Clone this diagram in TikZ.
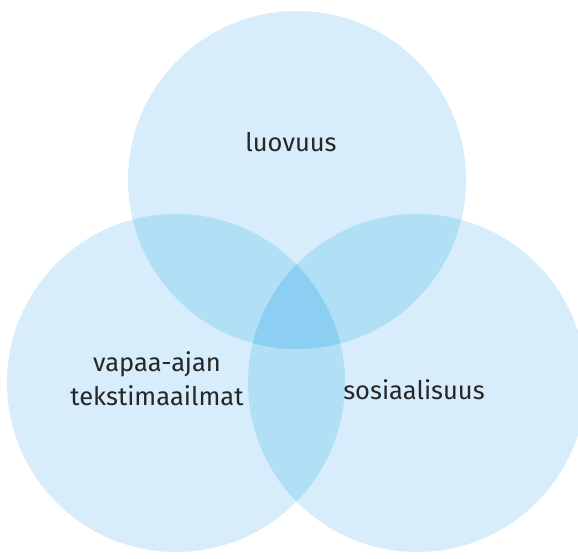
\documentclass[tikz,border=0pt]{standalone}
\usepackage{fontspec}
\setmainfont{Fira Sans}
\usetikzlibrary{positioning}
\definecolor{vennone}{HTML}{D7EDFB}
\definecolor{venntwo}{HTML}{B0DFF6}
\definecolor{vennthree}{HTML}{8CCFF2}

\begin{document}
\begin{tikzpicture}[x=1pt, y=-1pt, font=\fontsize{25.5}{34}\selectfont]
  \useasboundingbox (0,0) rectangle (578,559);
  \coordinate (top) at (297,180);
  \coordinate (lft) at (176,383);
  \coordinate (rgt) at (417,383);
  % single circles
  \fill[vennone] (top) circle[radius=169pt];
  \fill[vennone] (lft) circle[radius=169pt];
  \fill[vennone] (rgt) circle[radius=169pt];
  % pairwise overlaps
  \begin{scope}
    \clip (top) circle[radius=169pt];
    \fill[venntwo] (lft) circle[radius=169pt];
    \fill[venntwo] (rgt) circle[radius=169pt];
  \end{scope}
  \begin{scope}
    \clip (lft) circle[radius=169pt];
    \fill[venntwo] (rgt) circle[radius=169pt];
  \end{scope}
  % centre
  \begin{scope}
    \clip (top) circle[radius=169pt];
    \clip (lft) circle[radius=169pt];
    \fill[vennthree] (rgt) circle[radius=169pt];
  \end{scope}
  \node[text=black!85] (luo) at (291,142) {luovuus};
  \node[align=center, text=black!85] (vap) at (157,379) {vapaa-ajan\\tekstimaailmat};
  \node[text=black!85] (sos) at (414,390) {sosiaalisuus};
\end{tikzpicture}
\end{document}
